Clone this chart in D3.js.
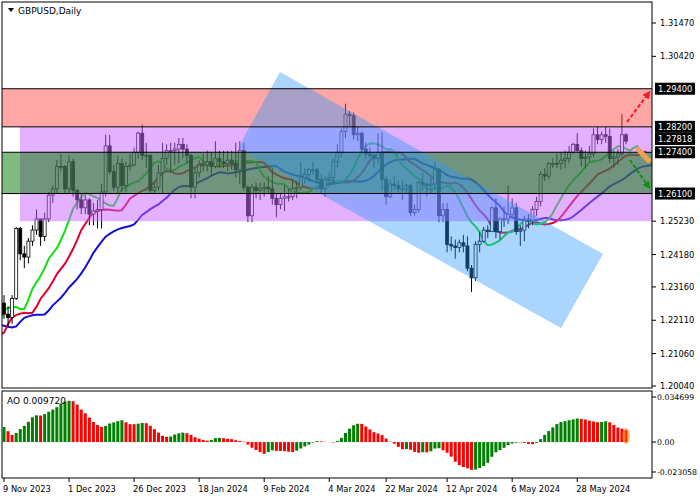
<!DOCTYPE html>
<html><head><meta charset="utf-8">
<script src="https://cdn.jsdelivr.net/npm/d3@7"></script>
<style>body{margin:0;background:#fff}text{font-family:"DejaVu Sans",sans-serif;font-size:9px}text.ax{font-size:8.3px}</style>
</head><body><div id="container"></div>
<script>
// closes before the first visible bar (Sep 11 - Nov 8 2023), used only to warm up the indicators
const historyCloses = [1.2507,1.2490,1.2490,1.2410,1.2380,1.2390,1.2390,1.2340,1.2290,1.2240,1.2210,1.2150,1.2120,1.2195,1.2200,
  1.2075,1.2090,1.2135,1.2200,1.2240,1.2235,1.2300,1.2310,1.2175,1.2135,1.2195,1.2185,1.2175,1.2155,1.2160,1.2245,1.2155,1.2085,1.2105,1.2125,1.2160,1.2150,
  1.2160,1.2230,1.2380,1.2370,1.2280,1.2265];

const dates = ["2023-11-09","2023-11-10","2023-11-13","2023-11-14","2023-11-15","2023-11-16","2023-11-17","2023-11-20","2023-11-21","2023-11-22","2023-11-23","2023-11-24","2023-11-27","2023-11-28","2023-11-29","2023-11-30",
"2023-12-01","2023-12-04","2023-12-05","2023-12-06","2023-12-07","2023-12-08","2023-12-11","2023-12-12","2023-12-13","2023-12-14","2023-12-15","2023-12-18","2023-12-19","2023-12-20","2023-12-21","2023-12-22","2023-12-26","2023-12-27","2023-12-28","2023-12-29",
"2024-01-02","2024-01-03","2024-01-04","2024-01-05","2024-01-08","2024-01-09","2024-01-10","2024-01-11","2024-01-12","2024-01-15","2024-01-16","2024-01-17","2024-01-18","2024-01-19","2024-01-22","2024-01-23","2024-01-24","2024-01-25","2024-01-26","2024-01-29","2024-01-30","2024-01-31",
"2024-02-01","2024-02-02","2024-02-05","2024-02-06","2024-02-07","2024-02-08","2024-02-09","2024-02-12","2024-02-13","2024-02-14","2024-02-15","2024-02-16","2024-02-19","2024-02-20","2024-02-21","2024-02-22","2024-02-23","2024-02-26","2024-02-27","2024-02-28","2024-02-29",
"2024-03-01","2024-03-04","2024-03-05","2024-03-06","2024-03-07","2024-03-08","2024-03-11","2024-03-12","2024-03-13","2024-03-14","2024-03-15","2024-03-18","2024-03-19","2024-03-20","2024-03-21","2024-03-22","2024-03-25","2024-03-26","2024-03-27","2024-03-28","2024-03-29",
"2024-04-01","2024-04-02","2024-04-03","2024-04-04","2024-04-05","2024-04-08","2024-04-09","2024-04-10","2024-04-11","2024-04-12","2024-04-15","2024-04-16","2024-04-17","2024-04-18","2024-04-19","2024-04-22","2024-04-23","2024-04-24","2024-04-25","2024-04-26","2024-04-29","2024-04-30",
"2024-05-01","2024-05-02","2024-05-03","2024-05-06","2024-05-07","2024-05-08","2024-05-09","2024-05-10","2024-05-13","2024-05-14","2024-05-15","2024-05-16","2024-05-17","2024-05-20","2024-05-21","2024-05-22","2024-05-23","2024-05-24","2024-05-27","2024-05-28","2024-05-29","2024-05-30","2024-05-31",
"2024-06-03","2024-06-04","2024-06-05","2024-06-06","2024-06-07","2024-06-10","2024-06-11","2024-06-12","2024-06-13"];

const closes = [1.2230,1.2220,1.2280,1.2500,1.2420,1.2410,1.2460,1.2495,1.2530,1.2475,1.2530,1.2605,1.2625,1.2695,1.2695,1.2625,
1.2710,1.2620,1.2590,1.2565,1.2590,1.2545,1.2555,1.2560,1.2615,1.2760,1.2680,1.2630,1.2705,1.2635,1.2695,1.2700,1.2740,1.2800,1.2730,1.2730,
1.2620,1.2630,1.2675,1.2720,1.2745,1.2745,1.2750,1.2765,1.2750,1.2730,1.2630,1.2675,1.2700,1.2700,1.2710,1.2695,1.2720,1.2710,1.2705,1.2715,1.2705,1.2685,
1.2745,1.2630,1.2540,1.2630,1.2620,1.2625,1.2630,1.2625,1.2595,1.2575,1.2595,1.2600,1.2600,1.2625,1.2630,1.2660,1.2670,1.2685,1.2685,1.2655,1.2625,
1.2655,1.2660,1.2710,1.2740,1.2805,1.2860,1.2855,1.2795,1.2800,1.2750,1.2735,1.2730,1.2720,1.2740,1.2655,1.2600,1.2640,1.2635,1.2625,1.2625,1.2635,
1.2550,1.2560,1.2645,1.2640,1.2635,1.2640,1.2685,1.2540,1.2560,1.2450,1.2445,1.2440,1.2455,1.2445,1.2375,1.2345,1.2450,1.2460,1.2495,1.2490,1.2565,1.2490,
1.2530,1.2530,1.2545,1.2565,1.2490,1.2495,1.2525,1.2525,1.2560,1.2585,1.2670,1.2665,1.2705,1.2705,1.2705,1.2715,1.2720,1.2740,1.2765,1.2745,1.2720,1.2725,1.2735,
1.2795,1.2780,1.2795,1.2790,1.2720,1.2725,1.2735,1.2795,1.2775];

const highs = [1.2290,1.2255,1.2290,1.2505,1.2505,1.2445,1.2470,1.2510,1.2560,1.2530,1.2550,1.2615,1.2635,1.2715,1.2735,1.2700,
1.2730,1.2720,1.2625,1.2610,1.2605,1.2595,1.2580,1.2590,1.2640,1.2795,1.2795,1.2700,1.2730,1.2720,1.2710,1.2735,1.2755,1.2805,1.2827,1.2770,
1.2735,1.2645,1.2700,1.2770,1.2765,1.2770,1.2770,1.2785,1.2785,1.2765,1.2735,1.2690,1.2715,1.2735,1.2745,1.2740,1.2775,1.2745,1.2745,1.2745,1.2745,1.2770,
1.2775,1.2770,1.2635,1.2640,1.2645,1.2645,1.2645,1.2665,1.2690,1.2610,1.2610,1.2635,1.2625,1.2650,1.2650,1.2710,1.2690,1.2690,1.2710,1.2690,1.2670,
1.2665,1.2680,1.2720,1.2765,1.2815,1.2893,1.2870,1.2865,1.2820,1.2805,1.2770,1.2755,1.2740,1.2800,1.2803,1.2665,1.2650,1.2665,1.2650,1.2650,1.2640,
1.2640,1.2575,1.2650,1.2675,1.2645,1.2660,1.2710,1.2690,1.2580,1.2580,1.2475,1.2465,1.2465,1.2480,1.2475,1.2385,1.2460,1.2490,1.2505,1.2510,1.2570,1.2595,
1.2535,1.2570,1.2635,1.2595,1.2580,1.2510,1.2540,1.2545,1.2570,1.2600,1.2680,1.2690,1.2710,1.2720,1.2735,1.2740,1.2745,1.2760,1.2770,1.2800,1.2755,1.2745,1.2760,
1.2815,1.2820,1.2805,1.2820,1.2815,1.2745,1.2750,1.2860,1.2800];

const lows = [1.2215,1.2190,1.2200,1.2275,1.2400,1.2375,1.2390,1.2445,1.2480,1.2445,1.2460,1.2520,1.2580,1.2610,1.2680,1.2610,
1.2610,1.2600,1.2560,1.2545,1.2545,1.2510,1.2510,1.2500,1.2500,1.2600,1.2670,1.2620,1.2610,1.2615,1.2615,1.2680,1.2695,1.2720,1.2715,1.2690,
1.2610,1.2610,1.2620,1.2610,1.2700,1.2675,1.2700,1.2705,1.2720,1.2705,1.2595,1.2595,1.2660,1.2680,1.2680,1.2665,1.2690,1.2690,1.2690,1.2680,1.2685,1.2660,
1.2640,1.2620,1.2520,1.2520,1.2595,1.2590,1.2600,1.2610,1.2575,1.2535,1.2560,1.2555,1.2585,1.2590,1.2595,1.2620,1.2640,1.2645,1.2670,1.2640,1.2610,
1.2600,1.2630,1.2640,1.2690,1.2725,1.2785,1.2820,1.2780,1.2775,1.2740,1.2720,1.2720,1.2690,1.2705,1.2620,1.2575,1.2595,1.2620,1.2610,1.2590,1.2610,
1.2540,1.2540,1.2550,1.2620,1.2600,1.2610,1.2625,1.2520,1.2520,1.2425,1.2430,1.2405,1.2425,1.2425,1.2365,1.2300,1.2335,1.2425,1.2455,1.2470,1.2490,1.2470,
1.2465,1.2505,1.2515,1.2535,1.2480,1.2445,1.2460,1.2500,1.2510,1.2540,1.2570,1.2650,1.2655,1.2690,1.2690,1.2685,1.2690,1.2705,1.2735,1.2740,1.2695,1.2690,1.2710,
1.2725,1.2765,1.2765,1.2770,1.2705,1.2690,1.2700,1.2725,1.2765];

const priceTicks = [1.31470,1.30420,1.25230,1.24180,1.23160,1.22110,1.21060,1.20040];
const levelLabels = [1.29400,1.28200,1.27818,1.27400,1.26100];
const levelLines = [1.294,1.282,1.274,1.261];
const dateLabels = ["2023-11-09","2023-12-01","2023-12-26","2024-01-18","2024-02-09","2024-03-04","2024-03-22","2024-04-12","2024-05-06","2024-05-28"];
const aoTicks = [0.034699,0,-0.023058];
const aoLabel = "AO 0.009720";

const W = 700, H = 500;
const svg = d3.select("#container").append("svg").attr("width", W).attr("height", H);

const n = closes.length;
const x = d3.scaleLinear().domain([0, n - 1]).range([4, 626]);
const y = d3.scaleLinear().domain([1.2004, 1.3147]).range([386, 23]);
const yAO = d3.scaleLinear().domain([-0.023058, 0.034699]).range([472, 397]);

// full series incl. history for indicators
const allC = historyCloses.concat(closes);
const allH = historyCloses.map(c => c + 0.003).concat(highs);
const allL = historyCloses.map(c => c - 0.003).concat(lows);
const med = allC.map((c, i) => (allH[i] + allL[i]) / 2);
const off = historyCloses.length;

function smma(arr, p) {
  const out = []; let s = d3.mean(arr.slice(0, p));
  arr.forEach((v, i) => { if (i >= p) s = (s * (p - 1) + v) / p; out.push(s); });
  return out;
}
function sma(arr, p, i) { return d3.mean(arr.slice(i - p + 1, i + 1)); }

const main = svg.append("g");
main.append("clipPath").attr("id", "clipMain").append("rect").attr("x", 2).attr("y", 2).attr("width", 650).attr("height", 386);
const plot = main.append("g").attr("clip-path", "url(#clipMain)");

// alligator lines
const lineDefs = [{p: 13, s: 8, c: "#1010d0"}, {p: 8, s: 5, c: "#e0002a"}, {p: 5, s: 3, c: "#10e010"}];
lineDefs.forEach(d => {
  const v = smma(med, d.p);
  const pts = [];
  for (let i = 20; i < v.length; i++) pts.push([i - off + d.s, v[i]]);
  plot.append("path").attr("d", d3.line().x(p => x(p[0])).y(p => y(p[1]))(pts))
    .attr("fill", "none").attr("stroke", d.c).attr("stroke-width", 2);
});

// candles
const opens = closes.map((c, i) => i === 0 ? 1.2265 : closes[i - 1]);
const cg = plot.selectAll(".c").data(closes).enter().append("g");
cg.append("line").attr("x1", (d, i) => x(i)).attr("x2", (d, i) => x(i))
  .attr("y1", (d, i) => y(highs[i])).attr("y2", (d, i) => y(lows[i])).attr("stroke", "#000").attr("stroke-width", 1);
cg.append("rect").attr("x", (d, i) => x(i) - 1.5).attr("width", 3)
  .attr("y", (d, i) => y(Math.max(d, opens[i])))
  .attr("height", (d, i) => Math.max(1, Math.abs(y(d) - y(opens[i]))))
  .attr("fill", (d, i) => d >= opens[i] ? "#fff" : "#000").attr("stroke", "#000").attr("stroke-width", 0.8);

// zones
plot.append("rect").attr("x", 2).attr("width", 650).attr("y", y(1.294)).attr("height", y(1.282) - y(1.294)).attr("fill", "rgba(255,80,80,0.5)");
plot.append("rect").attr("x", 20).attr("width", 632).attr("y", y(1.282)).attr("height", y(1.2523) - y(1.282)).attr("fill", "rgba(200,100,255,0.5)");
plot.append("rect").attr("x", 2).attr("width", 650).attr("y", y(1.274)).attr("height", y(1.261) - y(1.274)).attr("fill", "rgba(0,120,0,0.5)");
// descending channel
plot.append("polygon").attr("points", "280,72 603,254 561,328 238,148").attr("fill", "rgba(40,150,255,0.4)");

levelLines.forEach(v => plot.append("line").attr("x1", 2).attr("x2", 652).attr("y1", y(v)).attr("y2", y(v)).attr("stroke", "#000"));

// arrows
const defs = svg.append("defs");
[["ar", "#f02020"], ["ag", "#109010"]].forEach(a => defs.append("marker").attr("id", a[0]).attr("viewBox", "0 0 10 10")
  .attr("refX", 5).attr("refY", 5).attr("markerWidth", 4).attr("markerHeight", 4).attr("orient", "auto")
  .append("path").attr("d", "M0,0L10,5L0,10z").attr("fill", a[1]));
svg.append("line").attr("x1", 627).attr("y1", 122).attr("x2", 648).attr("y2", 94).attr("stroke", "#f02020").attr("stroke-width", 2).attr("stroke-dasharray", "4,2").attr("marker-end", "url(#ar)");
svg.append("line").attr("x1", 637).attr("y1", 148).attr("x2", 650).attr("y2", 162).attr("stroke", "#f0a050").attr("stroke-width", 5);
svg.append("line").attr("x1", 630).attr("y1", 160).attr("x2", 648).attr("y2", 186).attr("stroke", "#109010").attr("stroke-width", 2).attr("stroke-dasharray", "4,2").attr("marker-end", "url(#ag)");

// frames
svg.append("rect").attr("x", 2).attr("y", 2).attr("width", 650).attr("height", 386).attr("fill", "none").attr("stroke", "#000");
svg.append("rect").attr("x", 2).attr("y", 391).attr("width", 650).attr("height", 87).attr("fill", "none").attr("stroke", "#000");
svg.append("path").attr("d", "M8,8L14,8L11,12z").attr("fill", "#000");
svg.append("text").attr("x", 18).attr("y", 14).text("GBPUSD,Daily");

// price axis
priceTicks.forEach(v => {
  svg.append("line").attr("x1", 652).attr("x2", 656).attr("y1", y(v)).attr("y2", y(v)).attr("stroke", "#000");
  svg.append("text").attr("class", "ax").attr("x", 660).attr("y", y(v) + 3).text(v.toFixed(5));
});
levelLabels.forEach(v => {
  svg.append("rect").attr("x", 655).attr("y", y(v) - 6).attr("width", 40).attr("height", 12).attr("fill", "#000");
  svg.append("text").attr("class", "ax").attr("x", 658).attr("y", y(v) + 3).attr("fill", "#fff").text(v.toFixed(5));
});

// AO
const ao = [];
for (let i = 33; i < med.length; i++) ao.push({i: i - off, v: sma(med, 5, i) - sma(med, 34, i)});
const aoVis = ao.filter(d => d.i >= 0);
svg.selectAll(".ao").data(aoVis).enter().append("rect")
  .attr("x", d => x(d.i) - 1.5).attr("width", 3)
  .attr("y", d => Math.min(yAO(d.v), yAO(0))).attr("height", d => Math.abs(yAO(d.v) - yAO(0)))
  .attr("fill", d => { const p = ao.find(e => e.i === d.i - 1); return p && d.v < p.v ? "#ff0000" : "#008000"; });
const last = aoVis[aoVis.length - 1];
svg.append("ellipse").attr("cx", x(last.i)).attr("cy", (yAO(last.v) + yAO(0)) / 2).attr("rx", 4).attr("ry", Math.abs(yAO(last.v) - yAO(0)) / 2 + 2).attr("fill", "rgba(255,120,0,0.5)");
svg.append("text").attr("x", 7).attr("y", 404).text(aoLabel);
aoTicks.forEach(v => {
  svg.append("line").attr("x1", 652).attr("x2", 656).attr("y1", yAO(v)).attr("y2", yAO(v)).attr("stroke", "#000");
  svg.append("text").attr("class", "ax").attr("x", 657).attr("y", yAO(v) + 3).style("font-size", "7.8px").text(v === 0 ? "0.00" : v.toFixed(6));
});

// date axis
const fmt = d3.timeFormat("%-d %b %Y"), parse = d3.timeParse("%Y-%m-%d");
dateLabels.forEach(s => {
  const i = dates.indexOf(s);
  svg.append("line").attr("x1", x(i)).attr("x2", x(i)).attr("y1", 478).attr("y2", 482).attr("stroke", "#000");
  svg.append("text").attr("class", "ax").attr("x", x(i) - 1).attr("y", 492).text(fmt(parse(s)));
});
</script></body></html>
